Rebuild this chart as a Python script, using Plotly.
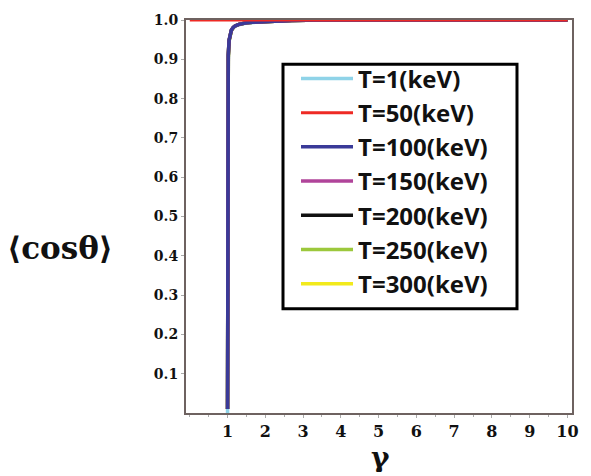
import plotly.graph_objects as go

gamma = [1.0, 1.005, 1.01, 1.02, 1.04, 1.07, 1.1, 1.15, 1.2, 1.3, 1.5, 1.8, 2.2, 2.7, 3.5, 5, 7, 10]
cos_t1 = [0.0, 0.40, 0.75, 0.90, 0.945, 0.962, 0.972, 0.980, 0.984, 0.988, 0.992, 0.995, 0.997, 0.999, 1.0, 1.0, 1.0, 1.0]
cos_t100 = [0.01, 0.42, 0.78, 0.91, 0.948, 0.964, 0.974, 0.981, 0.985, 0.989, 0.993, 0.995, 0.997, 0.999, 1.0, 1.0, 1.0, 1.0]
cos_t150 = cos_t100
cos_t200 = cos_t100
cos_t250 = [0.01, 0.41, 0.77, 0.905, 0.946, 0.963, 0.973, 0.980, 0.985, 0.989, 0.993, 0.995, 0.997, 0.999, 1.0, 1.0, 1.0, 1.0]
cos_t300 = cos_t250
gamma_flat = [0.0, 10.0]
cos_t50 = [1.0, 1.0]

series = [
    ("T=1(keV)", gamma, cos_t1, "#8fd3e8"),
    ("T=50(keV)", gamma_flat, cos_t50, "#ee2a24"),
    ("T=100(keV)", gamma, cos_t100, "#3a3a98"),
    ("T=150(keV)", gamma, cos_t150, "#b0449a"),
    ("T=200(keV)", gamma, cos_t200, "#111111"),
    ("T=250(keV)", gamma, cos_t250, "#9cc83c"),
    ("T=300(keV)", gamma, cos_t300, "#f2ea1c"),
]
draw_order = [0, 5, 6, 4, 3, 2, 1]

fig = go.Figure()
for i in draw_order:
    name, xs, ys, col = series[i]
    fig.add_trace(go.Scatter(x=xs, y=ys, mode="lines", name=name,
                             line=dict(color=col, width=3.5 if i != 1 else 3),
                             legendrank=i + 1))

# legend frame
fig.add_shape(type="rect", xref="paper", yref="paper",
              x0=0.2513, x1=0.8575, y0=0.265, y1=0.8875,
              line=dict(color="black", width=3), fillcolor="white", layer="above")

axis_color = "#6e6260"
fig.update_layout(
    width=591, height=476,
    margin=dict(l=186, r=19, t=13, b=63),
    paper_bgcolor="white", plot_bgcolor="white",
    showlegend=True,
    legend=dict(
        x=0.285, y=0.9075, xanchor="left", yanchor="top",
        borderwidth=0, bgcolor="rgba(0,0,0,0)",
        font=dict(family="Open Sans", size=24, color="#111111", weight="bold"),
        itemwidth=52,
    ),
    xaxis=dict(
        range=[-0.1, 10.12], tickvals=list(range(1, 11)),
        showgrid=False, zeroline=False,
        showline=True, linecolor=axis_color, linewidth=2, mirror=True,
        ticks="outside", ticklen=3, tickcolor="#aaaaaa",
        minor=dict(dtick=0.5, tick0=0, ticks="outside", ticklen=2, tickcolor="#aaaaaa"),
        tickfont=dict(family="DejaVu Serif", size=16, color="#111111", weight="bold"),
    ),
    yaxis=dict(
        range=[0, 1.0], tickvals=[0.1, 0.2, 0.3, 0.4, 0.5, 0.6, 0.7, 0.8, 0.9, 1.0],
        ticktext=["0.1", "0.2", "0.3", "0.4", "0.5", "0.6", "0.7", "0.8", "0.9", "1.0"],
        showgrid=False, zeroline=False,
        showline=True, linecolor=axis_color, linewidth=2, mirror=True,
        ticks="outside", ticklen=3, tickcolor="#aaaaaa",
        tickfont=dict(family="DejaVu Serif", size=14, color="#111111", weight="bold"),
    ),
    annotations=[
        dict(text="⟨cosθ⟩", xref="paper", yref="paper", x=-0.326, y=0.42,
             xanchor="center", yanchor="middle", showarrow=False,
             font=dict(family="DejaVu Serif", size=31, color="#111111", weight="bold")),
        dict(text="γ", xref="paper", yref="paper", x=0.503, y=-0.113,
             xanchor="center", yanchor="middle", showarrow=False, height=30,
             font=dict(family="DejaVu Serif", size=28, color="#111111", weight="bold")),
    ],
)
fig.write_html("out.html")
